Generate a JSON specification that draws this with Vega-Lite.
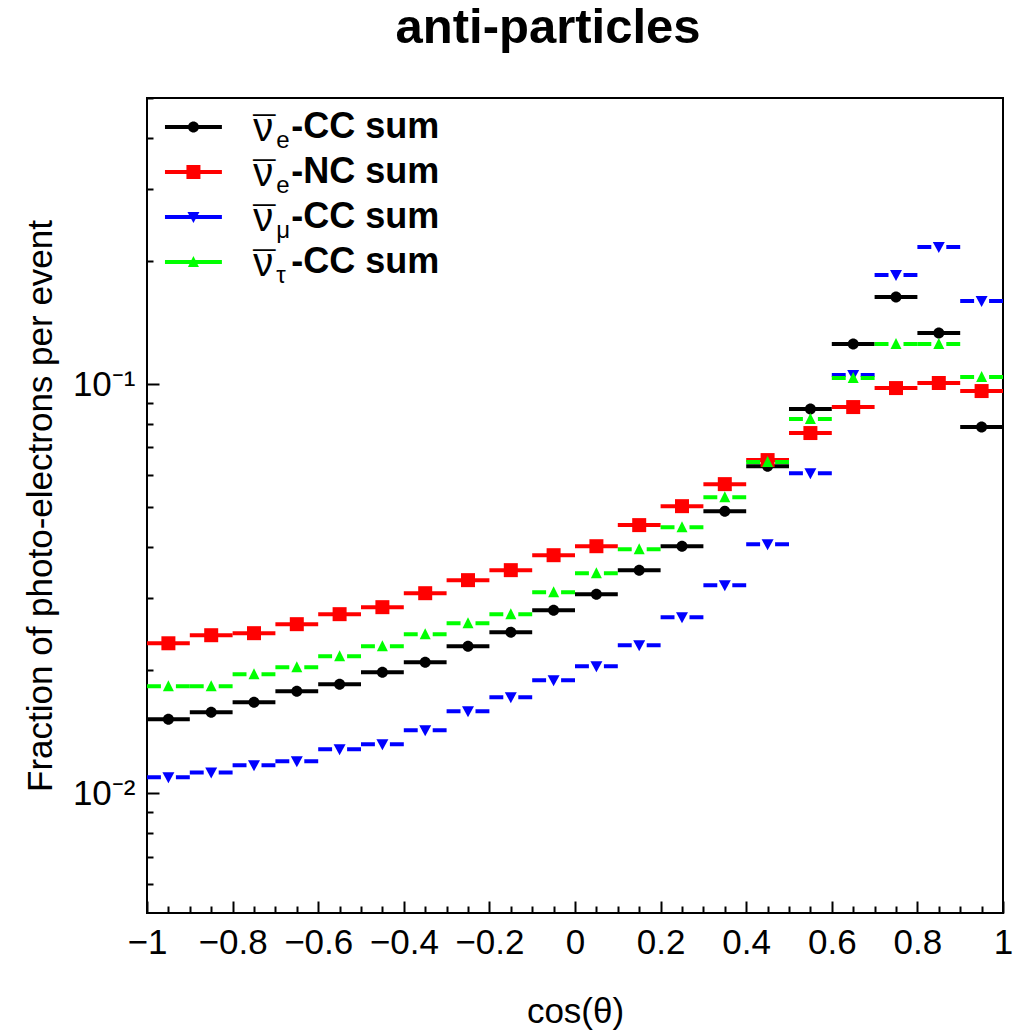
{
  "$schema": "https://vega.github.io/schema/vega-lite/v6.json",
  "width": 856,
  "height": 815,
  "autosize": {"type": "none"},
  "padding": {"left": 147, "top": 98, "right": 19, "bottom": 118},
  "background": "white",
  "title": {
    "text": "anti-particles",
    "font": "Liberation Sans",
    "fontSize": 49,
    "fontWeight": "bold",
    "color": "black",
    "anchor": "middle",
    "dx": -27,
    "baseline": "alphabetic",
    "offset": 5
  },
  "config": {
    "font": "Liberation Sans",
    "view": {"stroke": "black", "strokeWidth": 2}
  },
  "data": {
    "values": [
      {"s": "ν̄ₑ-CC sum", "lo": -1.0, "hi": -0.9, "x": -0.95, "v": 0.01517},
      {"s": "ν̄ₑ-CC sum", "lo": -0.9, "hi": -0.8, "x": -0.85, "v": 0.01578},
      {"s": "ν̄ₑ-CC sum", "lo": -0.8, "hi": -0.7, "x": -0.75, "v": 0.01669},
      {"s": "ν̄ₑ-CC sum", "lo": -0.7, "hi": -0.6, "x": -0.65, "v": 0.01776},
      {"s": "ν̄ₑ-CC sum", "lo": -0.6, "hi": -0.5, "x": -0.55, "v": 0.01847},
      {"s": "ν̄ₑ-CC sum", "lo": -0.5, "hi": -0.4, "x": -0.45, "v": 0.01976},
      {"s": "ν̄ₑ-CC sum", "lo": -0.4, "hi": -0.3, "x": -0.35, "v": 0.02091},
      {"s": "ν̄ₑ-CC sum", "lo": -0.3, "hi": -0.2, "x": -0.25, "v": 0.02288},
      {"s": "ν̄ₑ-CC sum", "lo": -0.2, "hi": -0.1, "x": -0.15, "v": 0.02475},
      {"s": "ν̄ₑ-CC sum", "lo": -0.1, "hi": 0.0, "x": -0.05, "v": 0.02802},
      {"s": "ν̄ₑ-CC sum", "lo": 0.0, "hi": 0.1, "x": 0.05, "v": 0.03067},
      {"s": "ν̄ₑ-CC sum", "lo": 0.1, "hi": 0.2, "x": 0.15, "v": 0.0351},
      {"s": "ν̄ₑ-CC sum", "lo": 0.2, "hi": 0.3, "x": 0.25, "v": 0.04016},
      {"s": "ν̄ₑ-CC sum", "lo": 0.3, "hi": 0.4, "x": 0.35, "v": 0.04892},
      {"s": "ν̄ₑ-CC sum", "lo": 0.4, "hi": 0.5, "x": 0.45, "v": 0.06302},
      {"s": "ν̄ₑ-CC sum", "lo": 0.5, "hi": 0.6, "x": 0.55, "v": 0.08687},
      {"s": "ν̄ₑ-CC sum", "lo": 0.6, "hi": 0.7, "x": 0.65, "v": 0.1252},
      {"s": "ν̄ₑ-CC sum", "lo": 0.7, "hi": 0.8, "x": 0.75, "v": 0.1632},
      {"s": "ν̄ₑ-CC sum", "lo": 0.8, "hi": 0.9, "x": 0.85, "v": 0.1332},
      {"s": "ν̄ₑ-CC sum", "lo": 0.9, "hi": 1.0, "x": 0.95, "v": 0.0785},

      {"s": "ν̄ₑ-NC sum", "lo": -1.0, "hi": -0.9, "x": -0.95, "v": 0.02326},
      {"s": "ν̄ₑ-NC sum", "lo": -0.9, "hi": -0.8, "x": -0.85, "v": 0.02434},
      {"s": "ν̄ₑ-NC sum", "lo": -0.8, "hi": -0.7, "x": -0.75, "v": 0.02462},
      {"s": "ν̄ₑ-NC sum", "lo": -0.7, "hi": -0.6, "x": -0.65, "v": 0.0259},
      {"s": "ν̄ₑ-NC sum", "lo": -0.6, "hi": -0.5, "x": -0.55, "v": 0.0274},
      {"s": "ν̄ₑ-NC sum", "lo": -0.5, "hi": -0.4, "x": -0.45, "v": 0.0285},
      {"s": "ν̄ₑ-NC sum", "lo": -0.4, "hi": -0.3, "x": -0.35, "v": 0.03083},
      {"s": "ν̄ₑ-NC sum", "lo": -0.3, "hi": -0.2, "x": -0.25, "v": 0.03318},
      {"s": "ν̄ₑ-NC sum", "lo": -0.2, "hi": -0.1, "x": -0.15, "v": 0.0351},
      {"s": "ν̄ₑ-NC sum", "lo": -0.1, "hi": 0.0, "x": -0.05, "v": 0.03818},
      {"s": "ν̄ₑ-NC sum", "lo": 0.0, "hi": 0.1, "x": 0.05, "v": 0.04016},
      {"s": "ν̄ₑ-NC sum", "lo": 0.1, "hi": 0.2, "x": 0.15, "v": 0.04522},
      {"s": "ν̄ₑ-NC sum", "lo": 0.2, "hi": 0.3, "x": 0.25, "v": 0.05031},
      {"s": "ν̄ₑ-NC sum", "lo": 0.3, "hi": 0.4, "x": 0.35, "v": 0.05695},
      {"s": "ν̄ₑ-NC sum", "lo": 0.4, "hi": 0.5, "x": 0.45, "v": 0.0652},
      {"s": "ν̄ₑ-NC sum", "lo": 0.5, "hi": 0.6, "x": 0.55, "v": 0.07591},
      {"s": "ν̄ₑ-NC sum", "lo": 0.6, "hi": 0.7, "x": 0.65, "v": 0.08786},
      {"s": "ν̄ₑ-NC sum", "lo": 0.7, "hi": 0.8, "x": 0.75, "v": 0.09777},
      {"s": "ν̄ₑ-NC sum", "lo": 0.8, "hi": 0.9, "x": 0.85, "v": 0.1006},
      {"s": "ν̄ₑ-NC sum", "lo": 0.9, "hi": 1.0, "x": 0.95, "v": 0.09614},

      {"s": "ν̄μ-CC sum", "lo": -1.0, "hi": -0.9, "x": -0.95, "v": 0.01094},
      {"s": "ν̄μ-CC sum", "lo": -0.9, "hi": -0.8, "x": -0.85, "v": 0.01125},
      {"s": "ν̄μ-CC sum", "lo": -0.8, "hi": -0.7, "x": -0.75, "v": 0.01171},
      {"s": "ν̄μ-CC sum", "lo": -0.7, "hi": -0.6, "x": -0.65, "v": 0.01197},
      {"s": "ν̄μ-CC sum", "lo": -0.6, "hi": -0.5, "x": -0.55, "v": 0.01281},
      {"s": "ν̄μ-CC sum", "lo": -0.5, "hi": -0.4, "x": -0.45, "v": 0.01318},
      {"s": "ν̄μ-CC sum", "lo": -0.4, "hi": -0.3, "x": -0.35, "v": 0.01426},
      {"s": "ν̄μ-CC sum", "lo": -0.3, "hi": -0.2, "x": -0.25, "v": 0.01587},
      {"s": "ν̄μ-CC sum", "lo": -0.2, "hi": -0.1, "x": -0.15, "v": 0.01717},
      {"s": "ν̄μ-CC sum", "lo": -0.1, "hi": 0.0, "x": -0.05, "v": 0.01889},
      {"s": "ν̄μ-CC sum", "lo": 0.0, "hi": 0.1, "x": 0.05, "v": 0.02044},
      {"s": "ν̄μ-CC sum", "lo": 0.1, "hi": 0.2, "x": 0.15, "v": 0.02301},
      {"s": "ν̄μ-CC sum", "lo": 0.2, "hi": 0.3, "x": 0.25, "v": 0.02694},
      {"s": "ν̄μ-CC sum", "lo": 0.3, "hi": 0.4, "x": 0.35, "v": 0.03226},
      {"s": "ν̄μ-CC sum", "lo": 0.4, "hi": 0.5, "x": 0.45, "v": 0.04062},
      {"s": "ν̄μ-CC sum", "lo": 0.5, "hi": 0.6, "x": 0.55, "v": 0.06058},
      {"s": "ν̄μ-CC sum", "lo": 0.6, "hi": 0.7, "x": 0.65, "v": 0.1052},
      {"s": "ν̄μ-CC sum", "lo": 0.7, "hi": 0.8, "x": 0.75, "v": 0.1847},
      {"s": "ν̄μ-CC sum", "lo": 0.8, "hi": 0.9, "x": 0.85, "v": 0.2163},
      {"s": "ν̄μ-CC sum", "lo": 0.9, "hi": 1.0, "x": 0.95, "v": 0.1596},

      {"s": "ν̄τ-CC sum", "lo": -1.0, "hi": -0.9, "x": -0.95, "v": 0.01826},
      {"s": "ν̄τ-CC sum", "lo": -0.9, "hi": -0.8, "x": -0.85, "v": 0.01826},
      {"s": "ν̄τ-CC sum", "lo": -0.8, "hi": -0.7, "x": -0.75, "v": 0.01954},
      {"s": "ν̄τ-CC sum", "lo": -0.7, "hi": -0.6, "x": -0.65, "v": 0.02033},
      {"s": "ν̄τ-CC sum", "lo": -0.6, "hi": -0.5, "x": -0.55, "v": 0.02163},
      {"s": "ν̄τ-CC sum", "lo": -0.5, "hi": -0.4, "x": -0.45, "v": 0.02288},
      {"s": "ν̄τ-CC sum", "lo": -0.4, "hi": -0.3, "x": -0.35, "v": 0.02448},
      {"s": "ν̄τ-CC sum", "lo": -0.3, "hi": -0.2, "x": -0.25, "v": 0.02604},
      {"s": "ν̄τ-CC sum", "lo": -0.2, "hi": -0.1, "x": -0.15, "v": 0.0274},
      {"s": "ν̄τ-CC sum", "lo": -0.1, "hi": 0.0, "x": -0.05, "v": 0.031},
      {"s": "ν̄τ-CC sum", "lo": 0.0, "hi": 0.1, "x": 0.05, "v": 0.03451},
      {"s": "ν̄τ-CC sum", "lo": 0.1, "hi": 0.2, "x": 0.15, "v": 0.0395},
      {"s": "ν̄τ-CC sum", "lo": 0.2, "hi": 0.3, "x": 0.25, "v": 0.04471},
      {"s": "ν̄τ-CC sum", "lo": 0.3, "hi": 0.4, "x": 0.35, "v": 0.05292},
      {"s": "ν̄τ-CC sum", "lo": 0.4, "hi": 0.5, "x": 0.45, "v": 0.06447},
      {"s": "ν̄τ-CC sum", "lo": 0.5, "hi": 0.6, "x": 0.55, "v": 0.0821},
      {"s": "ν̄τ-CC sum", "lo": 0.6, "hi": 0.7, "x": 0.65, "v": 0.1034},
      {"s": "ν̄τ-CC sum", "lo": 0.7, "hi": 0.8, "x": 0.75, "v": 0.1252},
      {"s": "ν̄τ-CC sum", "lo": 0.8, "hi": 0.9, "x": 0.85, "v": 0.1252},
      {"s": "ν̄τ-CC sum", "lo": 0.9, "hi": 1.0, "x": 0.95, "v": 0.104}
    ]
  },
  "resolve": {"scale": {"y": "independent"}},
  "layer": [
    {
      "resolve": {"axis": {"x": "independent", "y": "independent"}},
      "layer": [
        {
          "mark": {"type": "rule", "strokeWidth": 4, "strokeCap": "butt"},
          "encoding": {
            "x": {
              "field": "lo",
              "type": "quantitative",
              "scale": {"domain": [-1, 1], "nice": false, "zero": false},
              "axis": {
                "orient": "bottom",
                "values": [-1, -0.8, -0.6, -0.4, -0.2, 0, 0.2, 0.4, 0.6, 0.8, 1],
                "format": "~g",
                "domain": false,
                "grid": false,
                "tickSize": -12,
                "tickWidth": 2,
                "tickColor": "black",
                "labelFont": "Liberation Sans",
                "labelFontSize": 35,
                "labelColor": "black",
                "labelPadding": 24,
                "labelFlush": false,
                "labelOverlap": false,
                "title": "cos(θ)",
                "titleFont": "Liberation Sans",
                "titleFontSize": 35,
                "titleFontWeight": "normal",
                "titleColor": "black",
                "titlePadding": 34
              }
            },
            "x2": {"field": "hi"},
            "y": {
              "field": "v",
              "type": "quantitative",
              "scale": {"type": "log", "domain": [0.0051, 0.5], "nice": false},
              "axis": {
                "orient": "left",
                "values": [0.01, 0.1],
                "labelExpr": "datum.value < 0.05 ? '10⁻²' : '10⁻¹'",
                "domain": false,
                "grid": false,
                "tickSize": -12,
                "tickWidth": 2,
                "tickColor": "black",
                "labelFont": "Liberation Sans",
                "labelFontSize": 35,
                "labelColor": "black",
                "labelPadding": 24,
                "labelFlush": false,
                "labelOverlap": false,
                "title": "Fraction of photo-electrons per event",
                "titleFont": "Liberation Sans",
                "titleFontSize": 35,
                "titleFontWeight": "normal",
                "titleColor": "black",
                "titlePadding": 14
              }
            },
            "stroke": {
              "field": "s",
              "type": "nominal",
              "scale": {
                "domain": ["ν̄ₑ-CC sum", "ν̄ₑ-NC sum", "ν̄μ-CC sum", "ν̄τ-CC sum"],
                "range": ["#000000", "#ff0000", "#0000ff", "#00ff00"]
              },
              "legend": null
            },
            "strokeDash": {
              "field": "s",
              "type": "nominal",
              "scale": {
                "domain": ["ν̄ₑ-CC sum", "ν̄ₑ-NC sum", "ν̄μ-CC sum", "ν̄τ-CC sum"],
                "range": [[1, 0], [1, 0], [13.9, 15], [13.9, 15]]
              },
              "legend": null
            }
          }
        },
        {
          "transform": [{"filter": {"field": "s", "equal": "ν̄ₑ-CC sum"}}],
          "mark": {"type": "point", "shape": "M-0.55,0A0.55,0.55 0 1,1 0.55,0A0.55,0.55 0 1,1 -0.55,0Z", "filled": true, "size": 400, "opacity": 1, "strokeWidth": 0, "color": "#000000"},
          "encoding": {
            "x": {
              "field": "x",
              "type": "quantitative",
              "axis": {
                "orient": "bottom",
                "values": [-0.95, -0.9, -0.85, -0.75, -0.7, -0.65, -0.55, -0.5, -0.45, -0.35, -0.3, -0.25, -0.15, -0.1, -0.05, 0.05, 0.1, 0.15, 0.25, 0.3, 0.35, 0.45, 0.5, 0.55, 0.65, 0.7, 0.75, 0.85, 0.9, 0.95],
                "domain": false,
                "grid": false,
                "labels": false,
                "tickSize": -7,
                "tickWidth": 2,
                "tickColor": "black",
                "title": null
              }
            },
            "y": {
              "field": "v",
              "type": "quantitative",
              "axis": {
                "orient": "left",
                "values": [0.006, 0.007, 0.008, 0.009, 0.02, 0.03, 0.04, 0.05, 0.06, 0.07, 0.08, 0.09, 0.2, 0.3, 0.4, 0.5],
                "domain": false,
                "grid": false,
                "labels": false,
                "tickSize": -6,
                "tickWidth": 2,
                "tickColor": "black",
                "title": null
              }
            }
          }
        },
        {
          "transform": [{"filter": {"field": "s", "equal": "ν̄ₑ-NC sum"}}],
          "mark": {"type": "point", "shape": "M-0.7,-0.7H0.7V0.7H-0.7Z", "filled": true, "size": 400, "opacity": 1, "strokeWidth": 0, "color": "#ff0000"},
          "encoding": {
            "x": {"field": "x", "type": "quantitative", "axis": null},
            "y": {"field": "v", "type": "quantitative", "axis": null}
          }
        },
        {
          "transform": [{"filter": {"field": "s", "equal": "ν̄μ-CC sum"}}],
          "mark": {"type": "point", "shape": "M-0.6,-0.5H0.6L0,0.6Z", "filled": true, "size": 400, "opacity": 1, "strokeWidth": 0, "color": "#0000ff"},
          "encoding": {
            "x": {"field": "x", "type": "quantitative", "axis": null},
            "y": {"field": "v", "type": "quantitative", "axis": null}
          }
        },
        {
          "transform": [{"filter": {"field": "s", "equal": "ν̄τ-CC sum"}}],
          "mark": {"type": "point", "shape": "M0,-0.6L0.55,0.5H-0.55Z", "filled": true, "size": 400, "opacity": 1, "strokeWidth": 0, "color": "#00ff00"},
          "encoding": {
            "x": {"field": "x", "type": "quantitative", "axis": null},
            "y": {"field": "v", "type": "quantitative", "axis": null}
          }
        }
      ]
    },
    {
      "data": {
        "values": [
          {"s": "ν̄ₑ-CC sum", "sub": "e", "rest": "-CC sum"},
          {"s": "ν̄ₑ-NC sum", "sub": "e", "rest": "-NC sum"},
          {"s": "ν̄μ-CC sum", "sub": "μ", "rest": "-CC sum"},
          {"s": "ν̄τ-CC sum", "sub": "τ", "rest": "-CC sum"}
        ]
      },
      "encoding": {
        "y": {
          "field": "s",
          "type": "nominal",
          "scale": {
            "type": "point",
            "domain": ["ν̄ₑ-CC sum", "ν̄ₑ-NC sum", "ν̄μ-CC sum", "ν̄τ-CC sum"],
            "range": [29, 164],
            "padding": 0
          },
          "axis": null
        }
      },
      "layer": [
        {
          "mark": {"type": "rule", "strokeWidth": 4, "strokeCap": "butt"},
          "encoding": {
            "x": {"datum": -0.958, "type": "quantitative", "axis": null},
            "x2": {"datum": -0.825},
            "stroke": {"field": "s", "type": "nominal", "legend": null}
          }
        },
        {
          "mark": {"type": "point", "filled": true, "size": 400, "opacity": 1, "strokeWidth": 0},
          "encoding": {
            "x": {"datum": -0.8915, "type": "quantitative", "axis": null},
            "color": {
              "field": "s",
              "type": "nominal",
              "scale": {
                "domain": ["ν̄ₑ-CC sum", "ν̄ₑ-NC sum", "ν̄μ-CC sum", "ν̄τ-CC sum"],
                "range": ["#000000", "#ff0000", "#0000ff", "#00ff00"]
              },
              "legend": null
            },
            "shape": {
              "field": "s",
              "type": "nominal",
              "scale": {
                "domain": ["ν̄ₑ-CC sum", "ν̄ₑ-NC sum", "ν̄μ-CC sum", "ν̄τ-CC sum"],
                "range": [
                  "M-0.55,0A0.55,0.55 0 1,1 0.55,0A0.55,0.55 0 1,1 -0.55,0Z",
                  "M-0.7,-0.7H0.7V0.7H-0.7Z",
                  "M-0.6,-0.5H0.6L0,0.6Z",
                  "M0,-0.6L0.55,0.5H-0.55Z"
                ]
              },
              "legend": null
            }
          }
        },
        {
          "mark": {"type": "text", "text": "ν", "font": "Liberation Sans", "fontSize": 40, "color": "black", "align": "left", "baseline": "middle", "dy": 2},
          "encoding": {
            "x": {"datum": -0.752, "type": "quantitative", "axis": null}
          }
        },
        {
          "mark": {"type": "text", "text": "¯", "font": "Liberation Sans", "fontSize": 40, "color": "black", "align": "left", "baseline": "middle", "dx": 0, "dy": 6},
          "encoding": {
            "x": {"datum": -0.752, "type": "quantitative", "axis": null}
          }
        },
        {
          "mark": {"type": "text", "font": "Liberation Sans", "fontSize": 24, "color": "black", "align": "left", "baseline": "middle", "dx": 23, "dy": 14},
          "encoding": {
            "x": {"datum": -0.752, "type": "quantitative", "axis": null},
            "text": {"field": "sub", "type": "nominal"}
          }
        },
        {
          "mark": {"type": "text", "font": "Liberation Sans", "fontSize": 36, "fontWeight": "bold", "color": "black", "align": "left", "baseline": "middle", "dx": 38},
          "encoding": {
            "x": {"datum": -0.752, "type": "quantitative", "axis": null},
            "text": {"field": "rest", "type": "nominal"}
          }
        }
      ]
    }
  ]
}
